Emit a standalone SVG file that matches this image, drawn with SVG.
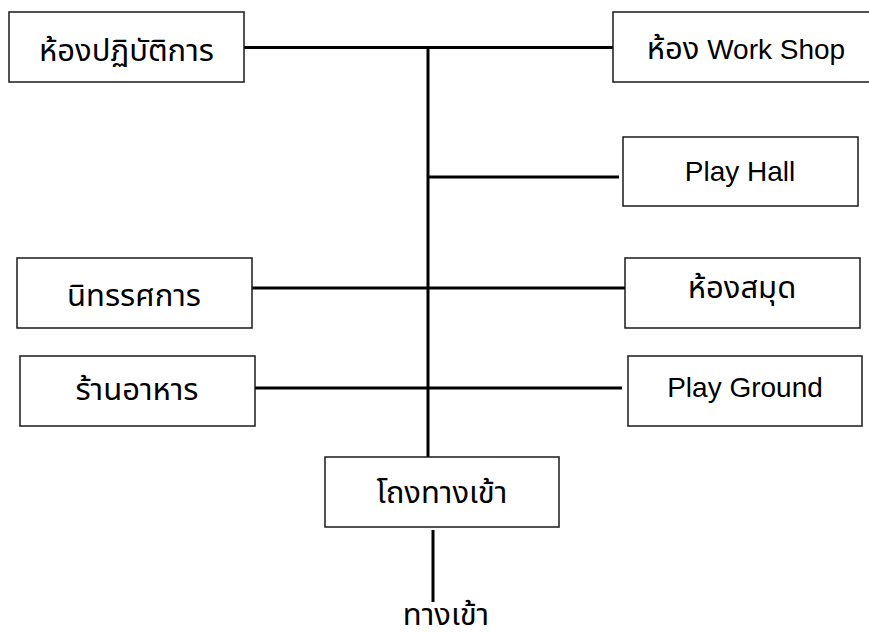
<svg xmlns="http://www.w3.org/2000/svg" width="869" height="632" viewBox="0 0 869 632">
<style>
.box{fill:#fff;stroke:#1a1a1a;stroke-width:1.5}
.lbl{font-family:"Liberation Sans","Noto Sans Thai","Noto Sans","DejaVu Sans",sans-serif;font-size:28px;fill:#000;text-anchor:middle}
.th{font-size:31px}
.con{stroke:#000;stroke-width:3;fill:none}
</style>
<rect width="869" height="632" fill="#fff"/>
<g id="connectors">
<line class="con" x1="428" y1="46" x2="428" y2="457"/>
<line class="con" x1="244" y1="47.5" x2="613" y2="47.5"/>
<line class="con" x1="427" y1="177" x2="619" y2="177"/>
<line class="con" x1="252" y1="288" x2="625" y2="288"/>
<line class="con" x1="255" y1="388" x2="622" y2="388"/>
<line class="con" x1="433" y1="530" x2="433" y2="602"/>
</g>
<g id="n1"><rect class="box" x="9" y="12" width="235" height="70"/><text class="lbl th" x="126.5" y="61">ห้องปฏิบัติการ</text></g>
<g id="n2"><rect class="box" x="613" y="12" width="260" height="70"/><text class="lbl" x="746" y="59"><tspan class="th">ห้อง</tspan> Work Shop</text></g>
<g id="n3"><rect class="box" x="623" y="137" width="235" height="69"/><text class="lbl" x="740" y="181">Play Hall</text></g>
<g id="n4"><rect class="box" x="17" y="258" width="235" height="70"/><text class="lbl th" x="134" y="306">นิทรรศการ</text></g>
<g id="n5"><rect class="box" x="625" y="258" width="235" height="70"/><text class="lbl th" x="742" y="298">ห้องสมุด</text></g>
<g id="n6"><rect class="box" x="20" y="356" width="235" height="70"/><text class="lbl th" x="137" y="400">ร้านอาหาร</text></g>
<g id="n7"><rect class="box" x="628" y="356" width="234" height="70"/><text class="lbl" x="745" y="397">Play Ground</text></g>
<g id="n8"><rect class="box" x="325" y="457" width="234" height="70"/><text class="lbl th" x="442" y="503">โถงทางเข้า</text></g>
<g id="n9"><text class="lbl th" x="446" y="625">ทางเข้า</text></g>
</svg>
